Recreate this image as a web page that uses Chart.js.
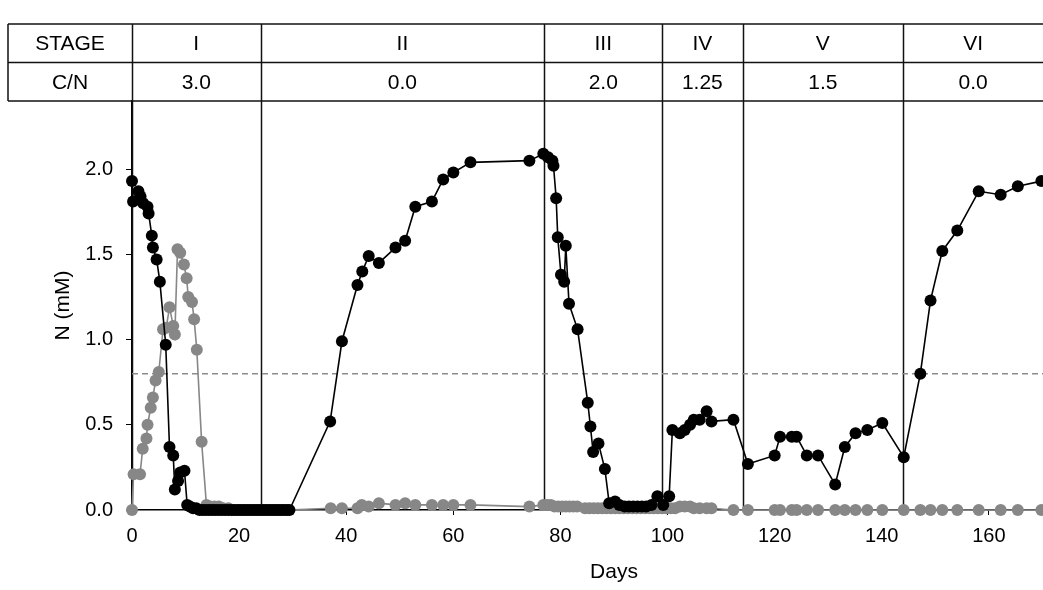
<!DOCTYPE html>
<html>
<head>
<meta charset="utf-8">
<title>N (mM) by stage</title>
<script src="https://cdn.jsdelivr.net/npm/chart.js@4.4.1/dist/chart.umd.min.js"></script>
<style>
  html, body { margin: 0; padding: 0; background: #fff; overflow: hidden; }
  #wrap { width: 1110px; height: 590px; }
</style>
</head>
<body>
<div id="wrap"><canvas id="chart" width="1110" height="590"></canvas></div>
<script>
// Stages and their C/N ratio (table above the plot)
const stageNames = ["I", "II", "III", "IV", "V", "VI"];
const stageStart = [0, 24, 77, 99, 114, 144];   // day each stage begins
const cnRatio = ["3.0", "0.0", "2.0", "1.25", "1.5", "0.0"];

// Reference level (dashed line)
const thresholdN = 0.8;

// Black series (days / mM)
const blackDays = [
  0.0, 0.2, 1.2, 1.6, 2.1, 2.9, 3.1, 3.7, 3.9, 4.6, 5.2, 6.3, 7.0, 7.7, 8.0, 8.6, 9.0, 9.8, 10.3,
  10.8, 11.4, 12.0, 12.6, 13.2, 13.8, 14.4, 15.0, 15.6, 16.2, 16.8, 17.4, 18.0, 18.6, 19.2, 19.8,
  20.4, 21.0, 21.6, 22.2, 22.8, 23.4, 24.0, 24.6, 25.2, 25.8, 26.4, 27.0, 27.6, 28.2, 28.8, 29.4,
  37.0, 39.2, 42.1, 43.0, 44.2, 46.1, 49.2, 51.0, 52.9, 56.0, 58.1, 60.0, 63.2, 74.2, 76.8,
  77.7, 78.5, 78.7, 79.2, 79.5, 80.1, 80.7, 81.0, 81.6, 83.2, 85.1, 85.6, 86.1, 87.1, 88.3, 89.1,
  90.2, 91.0, 92.0, 92.8, 93.6, 94.4, 95.2, 96.0, 97.0, 98.1,
  99.2, 100.3, 100.9, 102.3, 103.2, 104.2, 104.9, 106.0, 107.3, 108.2, 112.3,
  115.0, 120.0, 121.0, 123.2, 124.1, 126.0, 128.1, 131.3, 133.1, 135.1, 137.3, 140.1,
  144.1, 147.2, 149.1, 151.3, 154.1, 158.1, 162.2, 165.4, 169.8
];
const blackN = [
  1.93, 1.81, 1.87, 1.84, 1.80, 1.78, 1.74, 1.61, 1.54, 1.47, 1.34, 0.97, 0.37, 0.32, 0.12, 0.17, 0.22, 0.23, 0.03,
  0.02, 0.01, 0.01, 0, 0, 0, 0, 0, 0, 0, 0, 0, 0, 0, 0, 0,
  0, 0, 0, 0, 0, 0, 0, 0, 0, 0, 0, 0, 0, 0, 0, 0,
  0.52, 0.99, 1.32, 1.40, 1.49, 1.45, 1.54, 1.58, 1.78, 1.81, 1.94, 1.98, 2.04, 2.05, 2.09,
  2.07, 2.05, 2.02, 1.83, 1.60, 1.38, 1.34, 1.55, 1.21, 1.06, 0.63, 0.49, 0.34, 0.39, 0.24, 0.04,
  0.05, 0.03, 0.02, 0.02, 0.02, 0.02, 0.02, 0.02, 0.03, 0.08,
  0.03, 0.08, 0.47, 0.45, 0.47, 0.50, 0.53, 0.53, 0.58, 0.52, 0.53,
  0.27, 0.32, 0.43, 0.43, 0.43, 0.32, 0.32, 0.15, 0.37, 0.45, 0.47, 0.51,
  0.31, 0.80, 1.23, 1.52, 1.64, 1.87, 1.85, 1.90, 1.93
];

// Grey series (days / mM)
const greyDays = [
  0.0, 0.3, 1.5, 2.0, 2.7, 2.9, 3.5, 3.9, 4.4, 5.0, 5.8, 6.4, 7.0, 7.7, 8.0, 8.5, 9.0, 9.7, 10.2,
  10.5, 11.2, 11.6, 12.1, 13.0, 13.9, 14.6, 15.4, 16.2, 17.0, 18.0, 19.0, 20.0, 21.0, 22.0, 23.0,
  24.0, 25.0, 26.0, 27.0, 28.0, 29.0, 37.1, 39.2, 42.1, 42.9, 44.2, 46.1, 49.2, 51.0, 52.9, 56.0,
  58.1, 60.0, 63.2, 74.2,
  76.8, 77.5, 78.2, 78.9, 79.6, 80.3, 81.0, 81.7, 82.4, 83.1, 84.6, 85.4, 86.2, 87.0, 87.8, 88.6,
  89.4, 90.2, 91.0, 91.8, 92.6, 93.4, 94.2, 95.0, 95.8, 96.6, 97.4, 98.2,
  99.0, 99.8, 100.6, 101.4, 102.3, 103.2, 104.2, 104.9, 106.0, 107.3, 108.2, 112.3,
  115.0, 120.0, 121.0, 123.2, 124.1, 126.0, 128.1, 131.3, 133.1, 135.1, 137.3, 140.1,
  144.1, 147.2, 149.1, 151.3, 154.1, 158.1, 162.2, 165.4, 169.8
];
const greyN = [
  0.00, 0.21, 0.21, 0.36, 0.42, 0.50, 0.60, 0.66, 0.76, 0.81, 1.06, 1.07, 1.19, 1.08, 1.03, 1.53, 1.51, 1.44, 1.36,
  1.25, 1.22, 1.12, 0.94, 0.40, 0.03, 0.02, 0.02, 0.02, 0.01, 0.01, 0, 0, 0, 0, 0,
  0, 0, 0, 0, 0, 0, 0.01, 0.01, 0.01, 0.03, 0.02, 0.04, 0.03, 0.04, 0.03, 0.03,
  0.03, 0.03, 0.03, 0.02,
  0.03, 0.03, 0.03, 0.02, 0.02, 0.02, 0.02, 0.02, 0.02, 0.02, 0.01, 0.01, 0.01, 0.01, 0.01, 0.01,
  0.01, 0.01, 0.01, 0.01, 0.01, 0.01, 0.01, 0.01, 0.01, 0.01, 0.01, 0.01,
  0.01, 0.01, 0.01, 0.01, 0.02, 0.02, 0.02, 0.01, 0.01, 0.01, 0.01, 0,
  0, 0, 0, 0, 0, 0, 0, 0, 0, 0, 0, 0,
  0, 0, 0, 0, 0, 0, 0, 0, 0
];

// axis ranges
const xMax = 180;      // plot runs past the visible edge of the picture
const yMax = 2.4;

function toPoints(days, vals) {
  return days.map((d, i) => ({ x: d, y: vals[i] }));
}

// Draws the STAGE / C/N table and the stage boundary lines
const stageTable = {
  id: "stageTable",
  beforeDatasetsDraw(chart) {
    const ctx = chart.ctx;
    const xs = chart.scales.x;
    const area = chart.chartArea;
    const tableLeft = 8, tableTop = 24;
    const tableBottom = area.top;
    const rowMid = (tableTop + tableBottom) / 2;
    const right = area.right;
    const visibleRight = Math.min(right, window.innerWidth);

    ctx.save();
    ctx.strokeStyle = "#111";
    ctx.lineWidth = 1.5;

    // horizontal table rules
    [tableTop, rowMid, tableBottom].forEach((y) => {
      ctx.beginPath();
      ctx.moveTo(tableLeft, y);
      ctx.lineTo(right, y);
      ctx.stroke();
    });
    ctx.beginPath();
    ctx.moveTo(tableLeft, tableTop);
    ctx.lineTo(tableLeft, tableBottom);
    ctx.stroke();

    // stage boundaries, through table and plot
    stageStart.forEach((d) => {
      const x = Math.round(xs.getPixelForValue(d)) + 0.5;
      ctx.beginPath();
      ctx.moveTo(x, tableTop);
      ctx.lineTo(x, area.bottom);
      ctx.stroke();
    });

    // table text
    ctx.fillStyle = "#000";
    ctx.font = "21px 'Liberation Sans Narrow', 'Liberation Sans', sans-serif";
    ctx.textAlign = "center";
    ctx.textBaseline = "middle";
    const r1 = (tableTop + rowMid) / 2 + 1;
    const r2 = (rowMid + tableBottom) / 2 + 1;
    const firstX = (tableLeft + xs.getPixelForValue(0)) / 2;
    ctx.fillText("STAGE", firstX, r1);
    ctx.fillText("C/N", firstX, r2);
    stageNames.forEach((name, i) => {
      const x0 = xs.getPixelForValue(stageStart[i]);
      const x1 = i + 1 < stageStart.length ? xs.getPixelForValue(stageStart[i + 1]) : visibleRight;
      const cx = (x0 + x1) / 2;
      ctx.fillText(name, cx, r1);
      ctx.fillText(cnRatio[i], cx, r2);
    });
    ctx.restore();
  }
};

Chart.defaults.font.family = "'Liberation Sans', Arial, sans-serif";
Chart.defaults.color = "#000";

new Chart(document.getElementById("chart"), {
  type: "scatter",
  data: {
    datasets: [
      {
        label: "black",
        data: toPoints(blackDays, blackN),
        showLine: true,
        clip: false,
        borderColor: "#000",
        backgroundColor: "#000",
        borderWidth: 1.6,
        pointRadius: 6,
        pointBorderWidth: 0,
        order: 1
      },
      {
        label: "grey",
        data: toPoints(greyDays, greyN),
        showLine: true,
        clip: false,
        borderColor: "#878787",
        backgroundColor: "#878787",
        borderWidth: 1.6,
        pointRadius: 6,
        pointBorderWidth: 0,
        order: 2
      },
      {
        label: "threshold",
        data: [{ x: 0, y: thresholdN }, { x: xMax, y: thresholdN }],
        showLine: true,
        borderColor: "#8c8c8c",
        borderWidth: 1.5,
        borderDash: [6, 4],
        pointRadius: 0,
        order: 3
      }
    ]
  },
  plugins: [stageTable],
  options: {
    responsive: false,
    animation: false,
    layout: { padding: { top: 101, left: 47, right: 14, bottom: 0 } },
    plugins: {
      legend: { display: false },
      tooltip: { enabled: false }
    },
    scales: {
      x: {
        type: "linear",
        min: 0,
        max: xMax,
        afterFit: (s) => { s.height = 80; },
        border: { display: true, color: "#000", width: 1.5 },
        grid: { drawOnChartArea: false, drawTicks: true, tickLength: 5, color: "#000" },
        ticks: {
          stepSize: 20,
          autoSkip: false,
          padding: 9,
          font: { size: 20 },
          callback: (v) => (v > 170 ? "" : v)
        },
        title: { display: true, text: "Days", font: { size: 21 }, padding: { top: 4, bottom: 5 } }
      },
      y: {
        min: 0,
        max: yMax,
        afterFit: (s) => { s.width = 85; },
        border: { display: true, color: "#000", width: 1.5 },
        grid: { drawOnChartArea: false, drawTicks: true, tickLength: 6, color: "#000" },
        ticks: {
          stepSize: 0.5,
          includeBounds: false,
          padding: 13,
          font: { size: 20 },
          callback: (v) => v.toFixed(1)
        },
        title: { display: true, text: "N (mM)", font: { size: 21 }, padding: { top: 4, bottom: 4 } }
      }
    }
  }
});
</script>
</body>
</html>
